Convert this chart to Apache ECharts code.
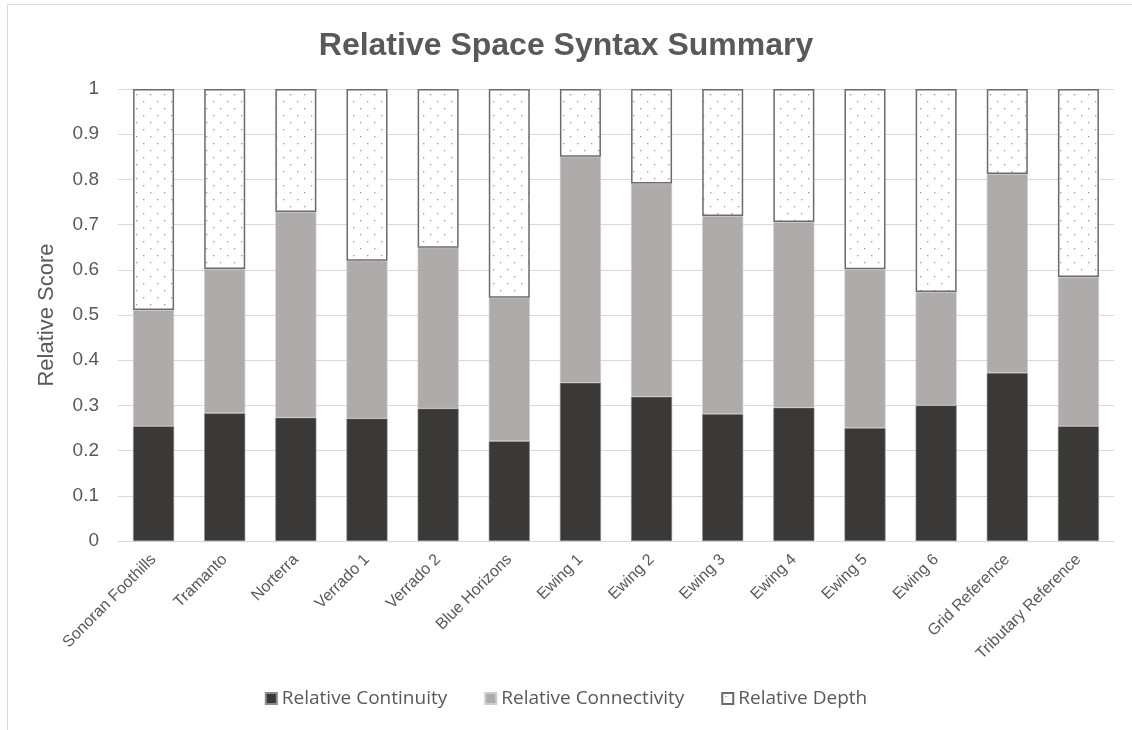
<!DOCTYPE html>
<html>
<head>
<meta charset="utf-8">
<script src="https://cdn.jsdelivr.net/npm/echarts@6/dist/echarts.min.js"></script>
<style>
  html, body { margin: 0; padding: 0; background: #fff; }
  #chart { width: 1132px; height: 730px; }
</style>
</head>
<body>
<div id="chart"></div>
<script>
const sites = [
  "Sonoran Foothills", "Tramanto", "Norterra", "Verrado 1", "Verrado 2",
  "Blue Horizons", "Ewing 1", "Ewing 2", "Ewing 3", "Ewing 4",
  "Ewing 5", "Ewing 6", "Grid Reference", "Tributary Reference"
];
const continuity = [0.254, 0.283, 0.273, 0.271, 0.293, 0.221, 0.350, 0.319, 0.281, 0.295, 0.250, 0.300, 0.372, 0.254];
const connectivity = [0.257, 0.319, 0.455, 0.349, 0.356, 0.317, 0.500, 0.472, 0.438, 0.411, 0.351, 0.251, 0.440, 0.330];
const depth = [0.489, 0.398, 0.272, 0.380, 0.351, 0.462, 0.150, 0.209, 0.281, 0.294, 0.399, 0.449, 0.188, 0.416];
const yTicks = [0, 0.1, 0.2, 0.3, 0.4, 0.5, 0.6, 0.7, 0.8, 0.9, 1];

// dotted fill used for the depth segment
function dotPattern() {
  const c = document.createElement("canvas");
  c.width = 14;
  c.height = 14;
  const ctx = c.getContext("2d");
  ctx.fillStyle = "#fff";
  ctx.fillRect(0, 0, 14, 14);
  ctx.fillStyle = "#9a9a9a";
  ctx.fillRect(3, 3, 1.3, 1.3);
  ctx.fillRect(10, 10, 1.3, 1.3);
  return c;
}

const chart = echarts.init(document.getElementById("chart"));
const textColor = "#595959";

chart.setOption({
  animation: false,
  title: {
    text: "Relative Space Syntax Summary",
    left: "center",
    top: 25,
    textStyle: { fontFamily: "Liberation Sans", fontSize: 32, fontWeight: "bold", color: textColor }
  },
  graphic: [{
    type: "polyline",
    shape: { points: [[7.5, 740], [7.5, 4.5], [1140, 4.5]] },
    style: { stroke: "#d9d9d9", lineWidth: 1, fill: null }
  }],
  legend: {
    bottom: 17,
    left: "center",
    icon: "rect",
    itemWidth: 11,
    itemHeight: 11,
    itemGap: 37,
    textStyle: { fontFamily: "Open Sans", fontSize: 19, color: textColor },
    data: ["Relative Continuity", "Relative Connectivity", "Relative Depth"]
  },
  grid: { left: 118, right: 18, top: 89, bottom: 189 },
  xAxis: {
    type: "category",
    data: sites,
    axisTick: { show: false },
    axisLine: { lineStyle: { color: "#d9d9d9" } },
    axisLabel: {
      rotate: 45,
      interval: 0,
      margin: 16,
      fontFamily: "Liberation Sans",
      fontSize: 16,
      color: textColor
    }
  },
  yAxis: {
    type: "value",
    min: 0,
    max: 1,
    interval: 0.1,
    name: "Relative Score",
    nameLocation: "middle",
    nameGap: 60,
    nameTextStyle: { fontFamily: "Liberation Sans", fontSize: 22, color: textColor },
    splitLine: { lineStyle: { color: "#d9d9d9" } },
    axisLabel: {
      margin: 19,
      fontFamily: "Liberation Sans",
      fontSize: 19,
      color: textColor,
      formatter: v => String(yTicks.find(t => Math.abs(t - v) < 1e-9) ?? v)
    }
  },
  series: [
    {
      name: "Relative Continuity",
      type: "bar",
      stack: "total",
      barWidth: 41,
      data: continuity,
      itemStyle: { color: "#3a3937", borderColor: "#8a8a8a", borderWidth: 0.6 }
    },
    {
      name: "Relative Connectivity",
      type: "bar",
      stack: "total",
      data: connectivity,
      itemStyle: { color: "#afabab", borderColor: "#cfcccc", borderWidth: 0.6 }
    },
    {
      name: "Relative Depth",
      type: "bar",
      stack: "total",
      data: depth,
      itemStyle: {
        color: { image: dotPattern(), repeat: "repeat" },
        borderColor: "#6b6b6b",
        borderWidth: 1.5
      }
    }
  ]
});
</script>
</body>
</html>
